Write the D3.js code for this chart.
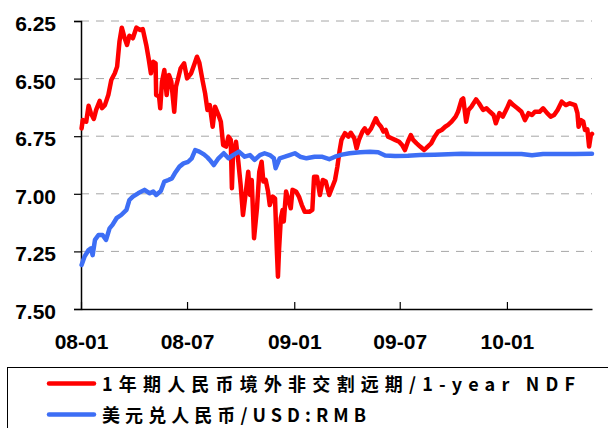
<!DOCTYPE html>
<html>
<head>
<meta charset="utf-8">
<script src="https://cdn.jsdelivr.net/npm/d3@7"></script>
<style>
  body { margin: 0; background: #fff; }
</style>
</head>
<body>
<script>
// 1-year NDF (red)
var ndfDates = ["2008-01-02","2008-01-04","2008-01-10","2008-01-14","2008-01-18","2008-01-23","2008-01-27","2008-02-02","2008-02-06","2008-02-11",
"2008-02-17","2008-02-22","2008-02-28","2008-03-03","2008-03-07","2008-03-11","2008-03-16","2008-03-20","2008-03-24","2008-03-30",
"2008-04-05","2008-04-11","2008-04-16","2008-04-22","2008-04-26","2008-04-30","2008-05-04","2008-05-08","2008-05-09","2008-05-14",
"2008-05-16","2008-05-19","2008-05-23","2008-05-27","2008-05-31","2008-06-04","2008-06-09","2008-06-12","2008-06-15","2008-06-20",
"2008-06-26","2008-07-01","2008-07-08","2008-07-14","2008-07-18","2008-07-22","2008-07-28","2008-08-01","2008-08-05","2008-08-09",
"2008-08-14","2008-08-18","2008-08-24","2008-08-28","2008-09-01","2008-09-06","2008-09-10","2008-09-14","2008-09-16","2008-09-18",
"2008-09-23","2008-09-27","2008-10-01","2008-10-05","2008-10-10","2008-10-14","2008-10-17","2008-10-20","2008-10-24","2008-10-29",
"2008-11-02","2008-11-06","2008-11-09","2008-11-13","2008-11-17","2008-11-20","2008-11-25","2008-11-29","2008-12-02","2008-12-04",
"2008-12-06","2008-12-09","2008-12-12","2008-12-14","2008-12-18","2008-12-22","2008-12-26","2008-12-29","2009-01-04","2009-01-09",
"2009-01-14","2009-01-19","2009-01-27","2009-02-01","2009-02-04","2009-02-09","2009-02-14","2009-02-19","2009-02-24","2009-03-02",
"2009-03-12","2009-03-16","2009-03-20","2009-03-23","2009-03-29","2009-04-04","2009-04-08","2009-04-14","2009-04-18","2009-04-22",
"2009-04-28","2009-05-02","2009-05-07","2009-05-13","2009-05-17","2009-05-21","2009-05-25","2009-05-30","2009-06-03","2009-06-07",
"2009-06-11","2009-06-17","2009-06-23","2009-06-30","2009-07-05","2009-07-10","2009-07-15","2009-07-20","2009-07-24","2009-07-30",
"2009-08-05","2009-08-12","2009-08-18","2009-08-24","2009-08-30","2009-09-05","2009-09-11","2009-09-17","2009-09-22","2009-09-28",
"2009-10-05","2009-10-09","2009-10-15","2009-10-18","2009-10-23","2009-10-27","2009-11-01","2009-11-09","2009-11-14","2009-11-21",
"2009-11-27","2009-12-03","2009-12-09","2009-12-13","2009-12-19","2009-12-25","2010-01-01","2010-01-06","2010-01-12","2010-01-19",
"2010-01-26","2010-02-01","2010-02-07","2010-02-13","2010-02-18","2010-02-26","2010-03-04","2010-03-11","2010-03-17","2010-03-23",
"2010-03-29","2010-04-05","2010-04-12","2010-04-19","2010-04-28","2010-05-02","2010-05-04","2010-05-08","2010-05-12","2010-05-15",
"2010-05-19","2010-05-22","2010-05-25","2010-05-27"];
var ndfValues = [6.716,6.68,6.687,6.618,6.65,6.675,6.636,6.597,6.628,6.615,
6.57,6.506,6.477,6.448,6.34,6.279,6.325,6.354,6.314,6.325,
6.279,6.289,6.285,6.354,6.412,6.477,6.427,6.434,6.571,6.578,
6.629,6.513,6.463,6.571,6.484,6.513,6.644,6.535,6.506,6.455,
6.434,6.499,6.477,6.434,6.405,6.43,6.513,6.564,6.636,6.615,
6.709,6.622,6.658,6.687,6.788,6.795,6.752,6.766,6.976,6.824,
6.774,6.861,6.962,7.092,6.99,6.904,7.005,6.94,7.193,7.063,
6.904,6.861,6.947,6.94,6.99,7.049,7.012,7.02,7.237,7.36,
7.237,7.106,7.07,7.12,6.99,7.027,7.063,6.983,6.99,7.012,
7.049,7.078,7.078,7.07,6.926,6.926,7.005,6.94,6.947,7.005,
6.94,6.882,6.81,6.766,6.737,6.752,6.735,6.759,6.803,6.766,
6.73,6.716,6.737,6.716,6.694,6.672,6.694,6.709,6.73,6.723,
6.752,6.759,6.766,6.774,6.788,6.81,6.774,6.745,6.766,6.781,
6.795,6.81,6.795,6.781,6.752,6.73,6.723,6.709,6.701,6.687,
6.665,6.644,6.593,6.586,6.687,6.636,6.622,6.59,6.607,6.636,
6.629,6.644,6.658,6.694,6.65,6.665,6.629,6.6,6.615,6.629,
6.644,6.68,6.65,6.658,6.644,6.644,6.629,6.65,6.665,6.658,
6.636,6.60,6.615,6.607,6.615,6.65,6.709,6.68,6.687,6.723,
6.72,6.795,6.745,6.74];

// USD:RMB spot (blue)
var rmbDates = ["2008-01-02","2008-01-07","2008-01-14","2008-01-18","2008-01-21","2008-01-25","2008-01-31","2008-02-07","2008-02-13","2008-02-19",
"2008-02-24","2008-03-02","2008-03-10","2008-03-19","2008-03-24","2008-03-30","2008-04-08","2008-04-19","2008-04-28","2008-05-04",
"2008-05-09","2008-05-17","2008-05-23","2008-05-30","2008-06-05","2008-06-10","2008-06-18","2008-06-25","2008-07-03","2008-07-09",
"2008-07-15","2008-07-22","2008-07-30","2008-08-05","2008-08-09","2008-08-16","2008-08-24","2008-09-02","2008-09-10","2008-09-18",
"2008-09-28","2008-10-08","2008-10-17","2008-10-25","2008-11-03","2008-11-11","2008-11-20","2008-11-27","2008-11-30","2008-12-07",
"2008-12-16","2008-12-24","2009-01-02","2009-01-11","2009-01-22","2009-02-05","2009-02-17","2009-03-02","2009-03-12","2009-03-24",
"2009-04-06","2009-04-24","2009-05-11","2009-05-25","2009-06-06","2009-06-23","2009-07-15","2009-08-05","2009-08-30","2009-09-22",
"2009-10-15","2009-11-09","2009-12-03","2010-01-01","2010-01-26","2010-02-13","2010-03-04","2010-04-05","2010-04-28","2010-05-27"];
var rmbValues = [7.309,7.273,7.244,7.237,7.266,7.20,7.179,7.179,7.20,7.15,
7.135,7.106,7.092,7.07,7.027,7.012,6.998,6.983,6.998,6.99,
7.005,6.988,6.947,6.94,6.933,6.911,6.882,6.868,6.861,6.846,
6.81,6.817,6.829,6.842,6.853,6.875,6.846,6.824,6.846,6.832,
6.817,6.839,6.832,6.853,6.832,6.824,6.832,6.846,6.889,6.846,
6.839,6.832,6.824,6.839,6.846,6.839,6.839,6.85,6.839,6.83,
6.824,6.82,6.818,6.82,6.834,6.836,6.835,6.832,6.83,6.828,
6.826,6.827,6.827,6.827,6.827,6.833,6.827,6.827,6.827,6.826];

var yTicks = [6.25, 6.50, 6.75, 7.00, 7.25, 7.50];
var xTickDates = ["2008-01-01","2008-07-01","2009-01-01","2009-07-01","2010-01-01"];
var xTickLabels = ["08-01","08-07","09-01","09-07","10-01"];
var seriesNames = ["1年期人民币境外非交割远期/1-year NDF", "美元兑人民币/USD:RMB"];
var seriesColors = ["#ff0000", "#3d6ef5"];

var parse = d3.timeParse("%Y-%m-%d");

var screen = {width: 608, height: 428};
var plot = {left: 81, right: 592, top: 21, bottom: 309};

var svg = d3.select("body")
  .append("svg")
  .attr("width", screen.width)
  .attr("height", screen.height);

var xScale = d3.scaleTime()
  .domain([parse("2008-01-01"), parse("2010-05-27")])
  .range([plot.left, plot.right]);

var yScale = d3.scaleLinear()
  .domain([6.25, 7.50])
  .range([plot.top, plot.bottom]);

// dashed gridlines
svg.append("g")
  .selectAll("line")
  .data(yTicks.slice(0, yTicks.length - 1))
  .enter()
  .append("line")
  .attr("x1", plot.left)
  .attr("x2", plot.right)
  .attr("y1", function(d) { return yScale(d); })
  .attr("y2", function(d) { return yScale(d); })
  .attr("stroke", "#a6a6a6")
  .attr("stroke-width", 1)
  .attr("stroke-dasharray", "8,7");

// y axis
var yAxis = d3.axisLeft(yScale)
  .tickValues(yTicks)
  .tickSize(7)
  .tickPadding(18)
  .tickFormat(d3.format(".2f"));

var gy = svg.append("g")
  .attr("transform", "translate(" + plot.left + ",0)")
  .call(yAxis);
gy.select(".domain").attr("stroke", "#000").attr("stroke-width", 1.5);
gy.selectAll(".tick line").attr("stroke", "#000").attr("stroke-width", 1.2);
gy.selectAll(".tick text")
  .attr("font-family", "Liberation Sans, Arial, sans-serif")
  .attr("font-size", 21)
  .attr("font-weight", "bold")
  .attr("fill", "#000")
  .attr("dy", "0.45em");

// x axis, ticks point up into the plot
var xAxis = d3.axisBottom(xScale)
  .tickValues(xTickDates.map(parse))
  .tickSizeInner(-7)
  .tickSizeOuter(0)
  .tickPadding(20)
  .tickFormat(function(d, i) { return xTickLabels[i]; });

var gx = svg.append("g")
  .attr("transform", "translate(0," + plot.bottom + ")")
  .call(xAxis);
gx.select(".domain").attr("stroke", "#000").attr("stroke-width", 1.5);
gx.selectAll(".tick line").attr("stroke", "#000").attr("stroke-width", 1.2);
gx.selectAll(".tick text")
  .attr("font-family", "Liberation Sans, Arial, sans-serif")
  .attr("font-size", 21)
  .attr("font-weight", "bold")
  .attr("fill", "#000")
  .attr("dy", "0.95em");

// lines
var line = d3.line()
  .x(function(d) { return xScale(d.date); })
  .y(function(d) { return yScale(d.value); });

var ndf = ndfDates.map(function(d, i) { return {date: parse(d), value: ndfValues[i]}; });
var rmb = rmbDates.map(function(d, i) { return {date: parse(d), value: rmbValues[i]}; });

svg.append("path")
  .datum(ndf)
  .attr("d", line)
  .attr("fill", "none")
  .attr("stroke", seriesColors[0])
  .attr("stroke-width", 4.5)
  .attr("stroke-linejoin", "round")
  .attr("stroke-linecap", "round");

svg.append("path")
  .datum(rmb)
  .attr("d", line)
  .attr("fill", "none")
  .attr("stroke", seriesColors[1])
  .attr("stroke-width", 4.5)
  .attr("stroke-linejoin", "round")
  .attr("stroke-linecap", "round");

// legend box
svg.append("rect")
  .attr("x", 7.5)
  .attr("y", 367.5)
  .attr("width", 620)
  .attr("height", 80)
  .attr("fill", "none")
  .attr("stroke", "#000")
  .attr("stroke-width", 1);

var legendRows = [383.5, 414.5];
var legendLengths = [473, 264];

var lg = svg.append("g")
  .selectAll("g")
  .data(seriesNames)
  .enter()
  .append("g")
  .attr("transform", function(d, i) { return "translate(0," + legendRows[i] + ")"; });

lg.append("line")
  .attr("x1", 49)
  .attr("x2", 94)
  .attr("stroke", function(d, i) { return seriesColors[i]; })
  .attr("stroke-width", 4.5)
  .attr("stroke-linecap", "round");

lg.append("text")
  .attr("x", 102)
  .attr("y", 7)
  .attr("font-family", "Noto Sans CJK SC, sans-serif")
  .attr("font-size", 18)
  .attr("font-weight", "bold")
  .attr("fill", "#000")
  .attr("textLength", function(d, i) { return legendLengths[i]; })
  .attr("lengthAdjust", "spacing")
  .text(function(d) { return d; });
</script>
</body>
</html>
